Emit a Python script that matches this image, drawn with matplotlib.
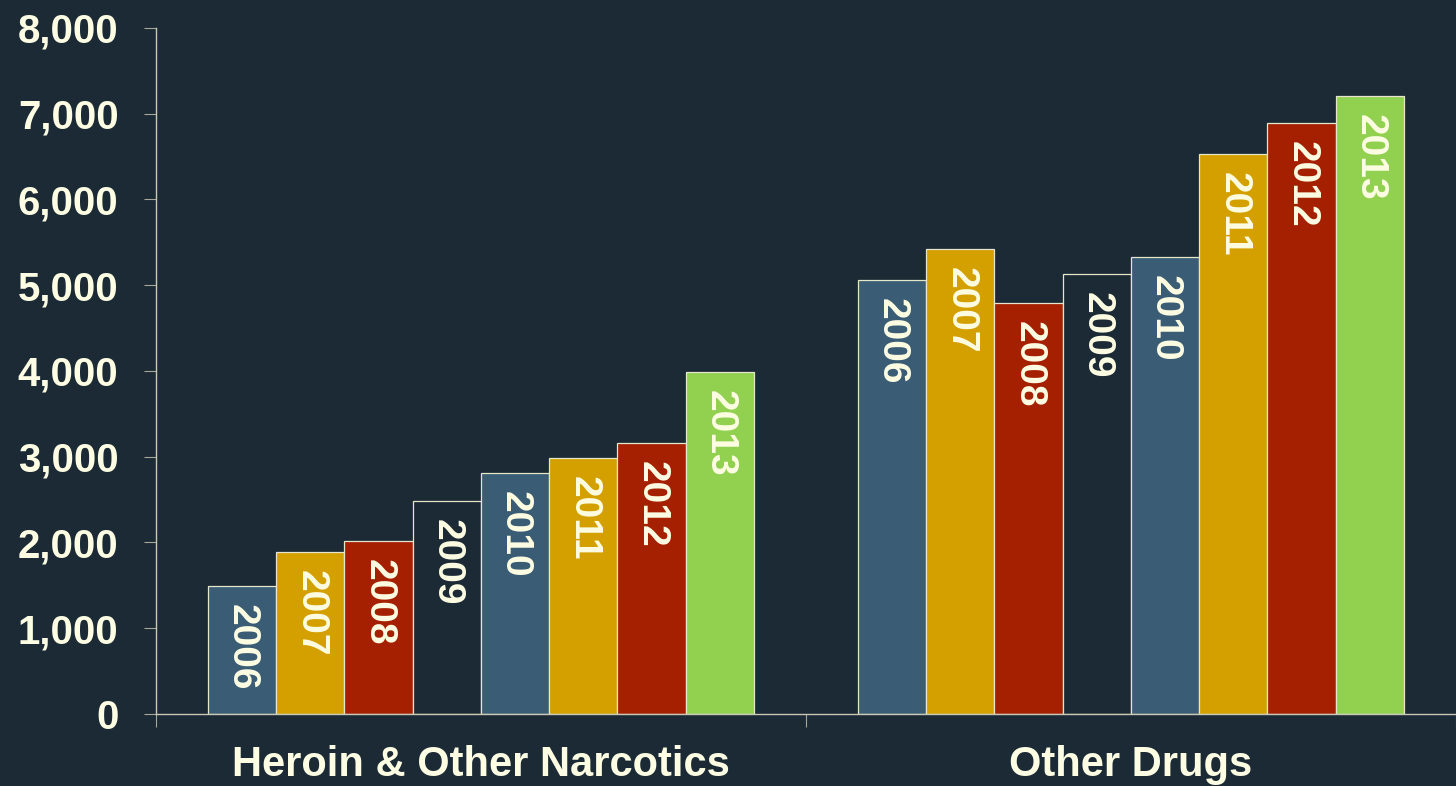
import numpy as np
import matplotlib.pyplot as plt
from matplotlib.ticker import FuncFormatter

# Data
categories = ["Heroin & Other Narcotics", "Other Drugs"]
years = ["2006", "2007", "2008", "2009", "2010", "2011", "2012", "2013"]
heroin = [1490, 1890, 2020, 2480, 2810, 2990, 3160, 3990]
other = [5060, 5420, 4790, 5130, 5330, 6530, 6890, 7210]

BG = "#1B2A35"
CREAM = "#FDFDE3"
EDGE = "#E6E6CC"
year_colors = ["#3A5D75", "#D4A000", "#A52000", BG,
               "#3A5D75", "#D4A000", "#A52000", "#92D050"]

plt.rcParams["font.family"] = ["Liberation Sans", "DejaVu Sans"]

fig = plt.figure(figsize=(14.56, 7.86), dpi=100, facecolor=BG)
ax = fig.add_axes([0.1071, 0.0916, 0.8929, 0.8728], facecolor=BG)

values = np.array([heroin, other])
x = np.arange(len(categories))
n = len(years)
w = 0.105

for i, yr in enumerate(years):
    pos = x - w * n / 2 + w * (i + 0.5)
    bars = ax.bar(pos, values[:, i], width=w, color=year_colors[i],
                  edgecolor=EDGE, linewidth=0.9)
    for b, v in zip(bars, values[:, i]):
        ax.annotate(yr, (b.get_x() + b.get_width() / 2, v),
                    xytext=(0, -13), textcoords="offset points",
                    rotation=-90, ha="center", va="top",
                    fontsize=28, fontweight="bold", color=CREAM)

ax.set_xlim(-0.5, 1.5)
ax.set_ylim(0, 8000)
ax.set_yticks(np.arange(0, 8001, 1000))
ax.yaxis.set_major_formatter(FuncFormatter(lambda v, p: f"{int(v):,}"))

# group boundaries get the tick marks, group centres get the names
ax.set_xticks([-0.5, 0.5, 1.5])
ax.set_xticklabels([])
ax.set_xticks(x, minor=True)
ax.set_xticklabels(categories, minor=True)
ax.tick_params(axis="both", which="both", labelsize=30, labelcolor=CREAM)
ax.tick_params(axis="x", which="minor", length=0, pad=22)
ax.tick_params(axis="x", which="major", length=9, color="#A8A89A")
ax.tick_params(axis="y", length=9, pad=18, color="#A8A89A", labelsize=29)
for lab in ax.get_xticklabels(minor=True) + ax.get_yticklabels():
    lab.set_fontweight("bold")

for s in ("top", "right"):
    ax.spines[s].set_visible(False)
for s in ("left", "bottom"):
    ax.spines[s].set_color("#C8C8B4")
    ax.spines[s].set_linewidth(1.0)

fig.savefig("out.png", dpi=100, facecolor=BG)
